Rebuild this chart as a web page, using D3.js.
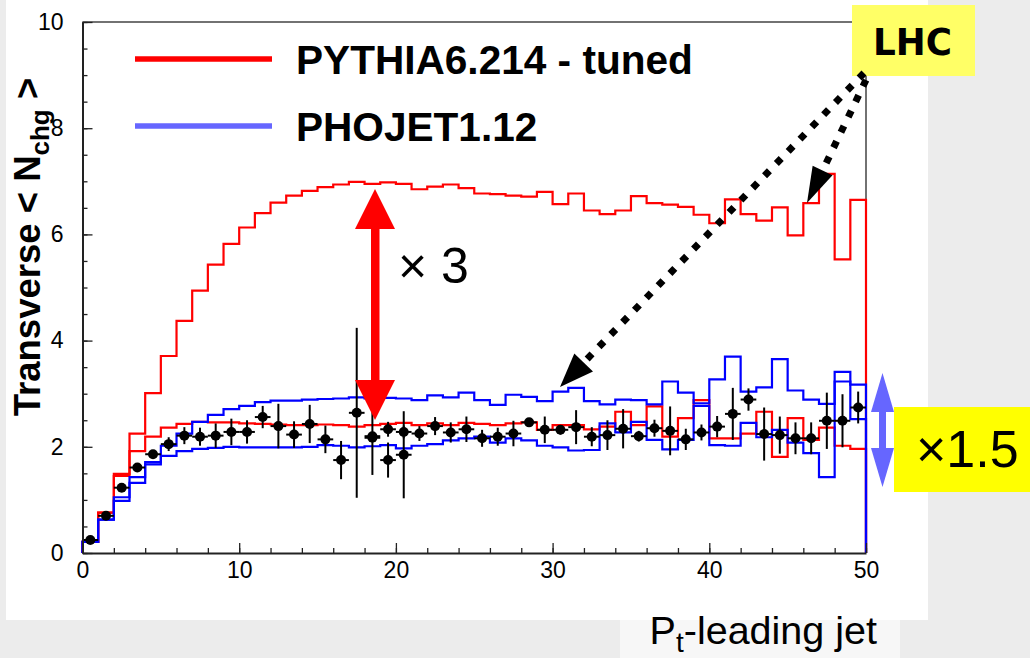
<!DOCTYPE html>
<html>
<head>
<meta charset="utf-8">
<script src="https://cdn.jsdelivr.net/npm/d3@7/dist/d3.min.js"></script>
<style>
  html, body { margin: 0; padding: 0; background: #ececec; }
  svg { display: block; }
</style>
</head>
<body>
<svg id="chart" width="1030" height="658"></svg>
<script>
// ---------------- data ----------------
const binEdges = d3.range(0, 51, 1);          // 50 bins of width 1 GeV
const binCenters = d3.range(0.5, 50, 1);

// PYTHIA6.214 tuned — LHC prediction (upper red)
const pythiaLHC = [0.21,0.76,1.49,2.25,3.01,3.71,4.37,4.94,5.43,5.82,
  6.13,6.40,6.60,6.73,6.82,6.89,6.94,6.99,6.95,6.98,
  6.95,6.85,6.90,6.94,6.87,6.77,6.76,6.73,6.71,6.80,
  6.57,6.77,6.45,6.38,6.45,6.72,6.59,6.56,6.52,6.37,
  6.21,6.66,6.38,6.26,6.51,5.98,6.59,7.14,5.53,6.65];
// PYTHIA6.214 tuned — Tevatron (lower red)
const pythiaTev = [0.21,0.76,1.45,1.92,2.19,2.36,2.43,2.47,2.46,2.46,
  2.44,2.43,2.42,2.41,2.41,2.42,2.41,2.38,2.41,2.43,
  2.45,2.41,2.44,2.41,2.45,2.43,2.41,2.44,2.46,2.32,
  2.41,2.41,2.33,2.38,2.66,2.41,2.76,2.19,2.54,2.88,
  2.16,2.16,2.25,2.66,1.81,2.54,2.13,2.36,2.02,1.96];
// PHOJET1.12 — LHC prediction (upper blue)
const phojetLHC = [0.21,0.63,1.05,1.43,1.71,2.02,2.25,2.47,2.60,2.71,
  2.77,2.84,2.87,2.87,2.89,2.90,2.91,2.93,2.91,2.92,
  2.91,2.88,2.97,2.93,3.02,2.88,2.79,2.98,2.94,2.86,
  3.04,3.11,2.86,2.80,2.89,2.88,2.80,3.23,3.02,2.82,
  3.27,3.70,3.04,3.12,3.65,3.06,2.89,2.81,3.41,3.17];
// PHOJET1.12 — Tevatron (lower blue)
const phojetTev = [0.21,0.63,0.98,1.32,1.67,1.83,1.92,1.96,1.98,2.00,
  1.99,1.99,1.99,1.99,2.00,2.03,2.02,1.99,2.01,2.03,
  1.97,2.02,2.05,2.12,2.16,2.19,2.08,2.16,2.12,2.02,
  1.99,1.93,1.94,2.44,2.27,2.47,2.13,1.95,2.13,2.77,
  2.03,2.02,2.45,2.18,2.32,2.08,1.88,1.43,3.23,2.52];
// CDF data
const dataVal = [0.245,0.70,1.23,1.61,1.86,2.05,2.21,2.19,2.21,2.28,
  2.28,2.56,2.39,2.23,2.43,2.14,1.75,2.64,2.20,2.33,
  2.28,2.25,2.39,2.27,2.33,2.16,2.19,2.25,2.46,2.32,
  2.32,2.37,2.19,2.22,2.34,2.20,2.35,2.30,2.14,2.27,
  2.38,2.62,2.89,2.24,2.22,2.16,2.16,2.49,2.49,2.74];
const dataErr = [0.03,0.03,0.04,0.05,0.07,0.13,0.16,0.17,0.23,0.25,
  0.22,0.21,0.42,0.25,0.36,0.26,0.36,1.60,0.73,0.14,
  0.12,0.14,0.17,0.19,0.24,0.16,0.17,0.24,0.08,0.25,
  0.09,0.32,0.18,0.28,0.37,0.10,0.16,0.46,0.20,0.15,
  0.20,0.49,0.21,0.50,0.35,0.30,0.30,0.53,0.50,0.30];
// second (overlapping) data set in bins 18-20
const data2X = [18.5, 19.5, 20.5];
const data2Val = [2.17, 1.75, 1.85];
const data2Err = [0.05, 0.33, 0.82];

const yTicks = [0, 2, 4, 6, 8, 10];
const xTicks = [0, 10, 20, 30, 40, 50];
const legendLabels = ["PYTHIA6.214 - tuned", "PHOJET1.12"];

// ---------------- drawing ----------------
const svg = d3.select("#chart");
const x = d3.scaleLinear().domain([0, 50]).range([82.5, 866]);
const y = d3.scaleLinear().domain([0, 10]).range([553, 22]);

// white panel
svg.append("rect").attr("x", 6).attr("y", 0).attr("width", 922).attr("height", 620).attr("fill", "#ffffff");
svg.append("rect").attr("x", 620).attr("y", 620).attr("width", 280).attr("height", 38).attr("fill", "#f7f7f7");

// frame (top / right)
svg.append("path")
  .attr("d", `M${x(0)},${y(10)}H${x(50)}V${y(0)}`)
  .attr("fill", "none").attr("stroke", "#444").attr("stroke-width", 1.5);

// histograms
function histPath(vals) {
  const pts = [[0, 0]];
  vals.forEach((v, i) => { pts.push([binEdges[i], v]); pts.push([binEdges[i + 1], v]); });
  pts.push([50, 0]);
  return d3.line().x(d => x(d[0])).y(d => y(d[1]))(pts);
}
[[pythiaLHC, "#ff0000"], [pythiaTev, "#ff0000"], [phojetLHC, "#0000ff"], [phojetTev, "#0000ff"]]
  .forEach(([vals, col]) => {
    svg.append("path").attr("d", histPath(vals)).attr("fill", "none")
      .attr("stroke", col).attr("stroke-width", 2.2).attr("stroke-linejoin", "miter");
  });

// data points
function drawPoints(xs, vs, es) {
  const g = svg.append("g");
  xs.forEach((cx, i) => {
    g.append("line").attr("x1", x(cx - 0.5)).attr("x2", x(cx + 0.5))
      .attr("y1", y(vs[i])).attr("y2", y(vs[i])).attr("stroke", "#000").attr("stroke-width", 2);
    g.append("line").attr("x1", x(cx)).attr("x2", x(cx))
      .attr("y1", y(vs[i] - es[i])).attr("y2", y(vs[i] + es[i])).attr("stroke", "#000").attr("stroke-width", 2);
    g.append("circle").attr("cx", x(cx)).attr("cy", y(vs[i])).attr("r", 5).attr("fill", "#000");
  });
}
drawPoints(binCenters, dataVal, dataErr);
drawPoints(data2X, data2Val, data2Err);

// axes
const axisFont = "Liberation Sans, Arial, sans-serif";
const yAxis = svg.append("g").attr("transform", `translate(${x(0)},0)`)
  .call(d3.axisLeft(y).tickValues(yTicks).tickSize(-10).tickSizeOuter(0).tickPadding(19).tickFormat(d3.format("d")));
svg.append("g").attr("transform", `translate(${x(0)},0)`)
  .call(d3.axisLeft(y).tickValues(d3.range(0, 10.01, 0.5)).tickSize(-5).tickSizeOuter(0).tickFormat(""))
  .select(".domain").remove();
const xAxis = svg.append("g").attr("transform", `translate(0,${y(0)})`)
  .call(d3.axisBottom(x).tickValues(xTicks).tickSize(-10).tickSizeOuter(0).tickPadding(9).tickFormat(d3.format("d")));
svg.append("g").attr("transform", `translate(0,${y(0)})`)
  .call(d3.axisBottom(x).tickValues(d3.range(0, 50.01, 2)).tickSize(-5).tickSizeOuter(0).tickFormat(""))
  .select(".domain").remove();
svg.selectAll(".domain").attr("stroke", "#222").attr("stroke-width", 2);
svg.selectAll(".tick line").attr("stroke", "#222").attr("stroke-width", 1.3);
[yAxis, xAxis].forEach(a => a.selectAll("text").attr("font-family", axisFont).attr("font-size", 23).attr("fill", "#000"));

// y axis title
const yt = svg.append("text").attr("transform", "translate(40,247) rotate(-90)")
  .attr("text-anchor", "middle").attr("font-family", axisFont).attr("font-weight", "bold")
  .attr("font-size", 36.5).attr("fill", "#000");
yt.append("tspan").text("Transverse < N");
yt.append("tspan").attr("font-size", 26).attr("dy", 9).text("chg");
yt.append("tspan").attr("dy", -9).text(" >");

// x axis title
const xt = svg.append("text").attr("x", 877).attr("y", 644).attr("text-anchor", "end")
  .attr("font-family", axisFont).attr("font-size", 39.5).attr("fill", "#000");
xt.append("tspan").text("P");
xt.append("tspan").attr("font-size", 28).attr("dy", 8).text("t");
xt.append("tspan").attr("dy", -8).text("-leading jet");

// legend
const legendColors = ["#ff0000", "#6666ff"];
const legendY = [59, 126];
legendLabels.forEach((lab, i) => {
  svg.append("line").attr("x1", 135).attr("x2", 272).attr("y1", legendY[i]).attr("y2", legendY[i])
    .attr("stroke", legendColors[i]).attr("stroke-width", 5.5);
  svg.append("text").attr("x", 296).attr("y", legendY[i] + 15).attr("font-family", axisFont)
    .attr("font-weight", "bold").attr("font-size", 40.6).attr("fill", "#000").text(lab);
});

// red double arrow (x 3)
const red = svg.append("g").attr("fill", "#ff0000");
red.append("rect").attr("x", 371).attr("y", 226).attr("width", 8.5).attr("height", 158);
red.append("path").attr("d", "M375,189 L395,229 L355,229 Z");
red.append("path").attr("d", "M375,420 L395,380 L355,380 Z");
svg.append("text").attr("x", 398).attr("y", 283).attr("font-family", axisFont)
  .attr("font-size", 50).attr("fill", "#000").text("× 3");

// LHC box and dotted arrows
svg.append("rect").attr("x", 852).attr("y", 5).attr("width", 123).attr("height", 71).attr("fill", "#ffff66");
svg.append("text").attr("x", 873).attr("y", 55).attr("font-family", "DejaVu Sans, sans-serif")
  .attr("font-weight", "bold").attr("font-size", 38)
  .attr("textLength", 79).attr("lengthAdjust", "spacingAndGlyphs").attr("fill", "#000").text("LHC");

function dottedArrow(x0, y0, x1, y1, headLen, headHalf) {
  const dx = x1 - x0, dy = y1 - y0, L = Math.hypot(dx, dy);
  const ux = dx / L, uy = dy / L;
  const bx = x1 - ux * headLen, by = y1 - uy * headLen;
  svg.append("line").attr("x1", x0).attr("y1", y0).attr("x2", bx).attr("y2", by)
    .attr("stroke", "#000").attr("stroke-width", 7).attr("stroke-dasharray", "7,10");
  svg.append("path").attr("d",
    `M${x1},${y1} L${bx - uy * headHalf},${by + ux * headHalf} L${bx + uy * headHalf},${by - ux * headHalf} Z`)
    .attr("fill", "#000");
}
dottedArrow(864, 73, 560, 387, 34, 13);
dottedArrow(866, 80, 807, 203, 36, 11);

// blue double arrow and x1.5 box
const blu = svg.append("g").attr("fill", "#6666ff");
blu.append("rect").attr("x", 879).attr("y", 408).attr("width", 7).attr("height", 44);
blu.append("path").attr("d", "M882.5,373 L894,412 L871,412 Z");
blu.append("path").attr("d", "M882.5,487 L894,448 L871,448 Z");
svg.append("rect").attr("x", 894).attr("y", 407).attr("width", 136).attr("height", 85).attr("fill", "#ffff00");
svg.append("text").attr("x", 916).attr("y", 467).attr("font-family", axisFont)
  .attr("font-size", 52).attr("fill", "#000").text("×1.5");
</script>
</body>
</html>
